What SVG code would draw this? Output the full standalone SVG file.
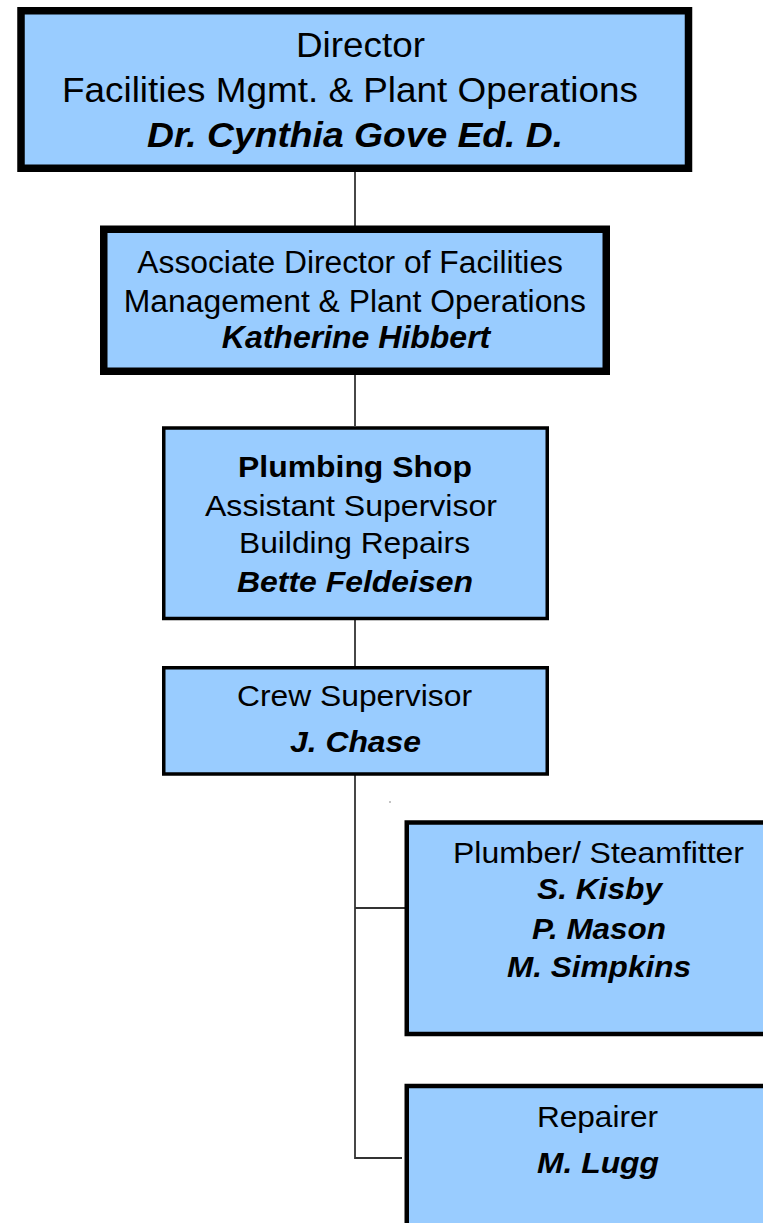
<svg xmlns="http://www.w3.org/2000/svg" width="763" height="1223" viewBox="0 0 763 1223">
<style>
.box{fill:#99CCFF;stroke:#000}
.t{font-family:"Liberation Sans",Arial,sans-serif;fill:#000;text-anchor:start}
.bi{font-weight:bold;font-style:italic}
.b{font-weight:bold}
.c{fill:none;stroke:#333;stroke-width:1.8}
</style>
<rect width="763" height="1223" fill="#fff"/>
<g id="connectors">
<line class="c" x1="355" y1="172" x2="355" y2="226"/>
<line class="c" x1="355" y1="375" x2="355" y2="426"/>
<line class="c" x1="355" y1="620" x2="355" y2="666"/>
<polyline class="c" points="355,775 355,1158 402,1158"/>
<line class="c" x1="355" y1="908" x2="405" y2="908"/>
<rect x="389.3" y="801.3" width="1.4" height="1.4" fill="#888"/>
</g>
<g id="director">
<rect class="box" x="21" y="10.75" width="667.5" height="157.5" stroke-width="7.5"/>
<text class="t" font-size="35" x="296" y="57.3" textLength="129" lengthAdjust="spacingAndGlyphs">Director</text>
<text class="t" font-size="35" x="62" y="101.7" textLength="576" lengthAdjust="spacingAndGlyphs">Facilities Mgmt. &amp; Plant Operations</text>
<text class="t bi" font-size="35" x="147" y="146.7" textLength="416" lengthAdjust="spacingAndGlyphs">Dr. Cynthia Gove Ed. D.</text>
</g>
<g id="assoc-director">
<rect class="box" x="103.75" y="229.25" width="502.5" height="142" stroke-width="7.5"/>
<text class="t" font-size="31" x="137.3" y="273" textLength="425.7" lengthAdjust="spacingAndGlyphs">Associate Director of Facilities</text>
<text class="t" font-size="31" x="123.8" y="311.7" textLength="462.2" lengthAdjust="spacingAndGlyphs">Management &amp; Plant Operations</text>
<text class="t bi" font-size="31" x="221.8" y="348.3" textLength="268.5" lengthAdjust="spacingAndGlyphs">Katherine Hibbert</text>
</g>
<g id="plumbing-shop">
<rect class="box" x="163.75" y="428" width="383.5" height="190.5" stroke-width="3.5"/>
<text class="t b" font-size="30" x="238" y="476.7" textLength="234" lengthAdjust="spacingAndGlyphs">Plumbing Shop</text>
<text class="t" font-size="30" x="205" y="516" textLength="292" lengthAdjust="spacingAndGlyphs">Assistant Supervisor</text>
<text class="t" font-size="30" x="239" y="553.3" textLength="231" lengthAdjust="spacingAndGlyphs">Building Repairs</text>
<text class="t bi" font-size="30" x="237" y="591.7" textLength="236" lengthAdjust="spacingAndGlyphs">Bette Feldeisen</text>
</g>
<g id="crew-supervisor">
<rect class="box" x="163.75" y="667.75" width="383.5" height="106.25" stroke-width="3.5"/>
<text class="t" font-size="30" x="237" y="706" textLength="235" lengthAdjust="spacingAndGlyphs">Crew Supervisor</text>
<text class="t bi" font-size="30" x="290" y="751.7" textLength="131" lengthAdjust="spacingAndGlyphs">J. Chase</text>
</g>
<g id="plumber-steamfitter">
<rect class="box" x="406.75" y="822.5" width="380" height="211.5" stroke-width="4.5"/>
<text class="t" font-size="30" x="453" y="862.7" textLength="291" lengthAdjust="spacingAndGlyphs">Plumber/ Steamfitter</text>
<text class="t bi" font-size="30" x="537" y="899" textLength="125" lengthAdjust="spacingAndGlyphs">S. Kisby</text>
<text class="t bi" font-size="30" x="532" y="939" textLength="134" lengthAdjust="spacingAndGlyphs">P. Mason</text>
<text class="t bi" font-size="30" x="507" y="976.7" textLength="184" lengthAdjust="spacingAndGlyphs">M. Simpkins</text>
</g>
<g id="repairer">
<rect class="box" x="406.75" y="1086" width="380" height="160" stroke-width="4.5"/>
<text class="t" font-size="30" x="537" y="1126.7" textLength="121" lengthAdjust="spacingAndGlyphs">Repairer</text>
<text class="t bi" font-size="30" x="537" y="1172.7" textLength="122" lengthAdjust="spacingAndGlyphs">M. Lugg</text>
</g>
</svg>
